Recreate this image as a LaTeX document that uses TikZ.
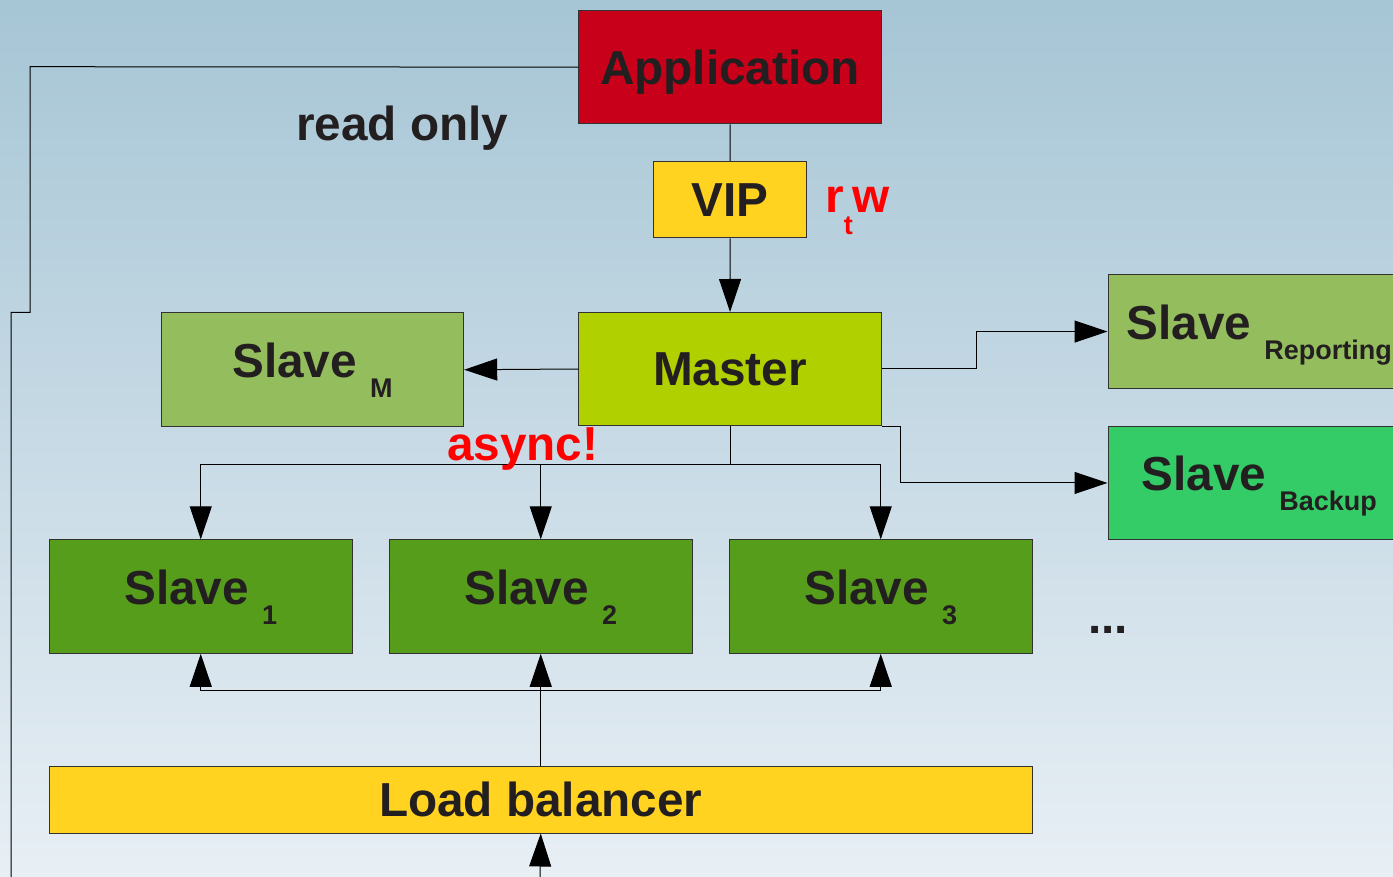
\documentclass[tikz,border=0pt]{standalone}
\usepackage{fontspec}
\setmainfont{Liberation Sans}
\usetikzlibrary{arrows.meta}
\definecolor{bgtop}{RGB}{166,197,213}
\definecolor{bgbot}{RGB}{232,239,245}
\definecolor{appred}{RGB}{201,0,25}
\definecolor{vipyel}{RGB}{255,211,32}
\definecolor{mastergr}{RGB}{176,208,0}
\definecolor{slaveltgr}{RGB}{148,189,94}
\definecolor{slavedkgr}{RGB}{87,157,28}
\definecolor{backupgr}{RGB}{51,204,102}
\definecolor{txt}{RGB}{35,31,32}
\definecolor{edge}{RGB}{50,50,50}
\newcommand\mainsz{\fontsize{47.7pt}{56pt}\selectfont\bfseries}
\newcommand\subsz{\fontsize{27pt}{32pt}\selectfont\bfseries}
\newcommand\slv[1]{Slave~\raisebox{-20pt}{\subsz #1}}
\begin{document}
\begin{tikzpicture}[x=1pt,y=-1pt,
  box/.style={draw=edge, line width=1pt, anchor=north west, inner sep=0pt,
    text=txt, font=\mainsz, text height=34pt, text depth=0pt},
  slavebox/.style={box, text depth=18pt, minimum width=302.5pt, minimum height=113.5pt},
  conn/.style={draw=black, line width=1pt},
  arr/.style={conn, -{Triangle[length=33pt,width=22pt]}},
  lbl/.style={anchor=base west, inner sep=0pt, font=\mainsz}]
\shade[top color=bgtop, bottom color=bgbot] (0,0) rectangle (1393,877);
\useasboundingbox (0,0) rectangle (1393,877);

\node[box, fill=appred, minimum width=302.5pt, minimum height=113.3pt] (app) at (578.3,10) {Application};
\node[box, fill=vipyel, minimum width=152.4pt, minimum height=76.3pt] (vip) at (653.3,161) {VIP};
\node[box, fill=mastergr, minimum width=302.5pt, minimum height=113pt] (master) at (578.3,312) {Master};
\node[slavebox, fill=slaveltgr] (sm) at (160.7,312.5) {\slv{M}};
\node[slavebox, fill=slaveltgr] (rep) at (1107.5,274.3) {\slv{Reporting}};
\node[slavebox, fill=backupgr] (bak) at (1107.5,425.7) {\slv{Backup}};
\node[slavebox, fill=slavedkgr] (s1) at (49,539.3) {\slv{1}};
\node[slavebox, fill=slavedkgr] (s2) at (389,539.3) {\slv{2}};
\node[slavebox, fill=slavedkgr] (s3) at (729,539.3) {\slv{3}};
\node[box, fill=vipyel, minimum width=982.5pt, minimum height=66.5pt] (lb) at (49,766) {Load balancer};

\node[lbl, text=txt] (ro) at (296,141) {read only};
\node[lbl, text=red] (rtw) at (825,213) {r\raisebox{-22pt}{\subsz t}w};
\node[lbl, text=txt] (dots) at (1088,633) {...};

\coordinate (leftend) at (11,877);
\coordinate (lbin) at (540,877);

% read-only path
\draw[conn] (app.west) -- (30,66.7) -- (30,312.3) -- (11,312.3) -- (leftend);
% application to master
\draw[conn] (app.south) -- (vip.north);
\draw[arr] (vip.south) -- (master.north);
\draw[arr] (master.west) -- (sm.east);
\draw[arr] (master.east) -- ++(95,0) |- (rep.west);
\draw[arr] (master.south east) -- ++(19,0) |- (bak.west);
% async replication
\draw[conn] (master.south) -- ++(0,38.3) coordinate (split);
\draw[arr] (split) -| (s1.north);
\draw[arr] (split) -| (s2.north);
\draw[arr] (split) -| (s3.north);
\node[lbl, text=red] (async) at (447,460) {async!};
% load balancer
\draw[arr] (lb.north) -- (s2.south);
\draw[conn] (lb.north) -- ++(0,-76) coordinate (join);
\draw[arr] (join) -| (s1.south);
\draw[arr] (join) -| (s3.south);
\draw[arr] (lbin) -- (lb.south);
\end{tikzpicture}
\end{document}
